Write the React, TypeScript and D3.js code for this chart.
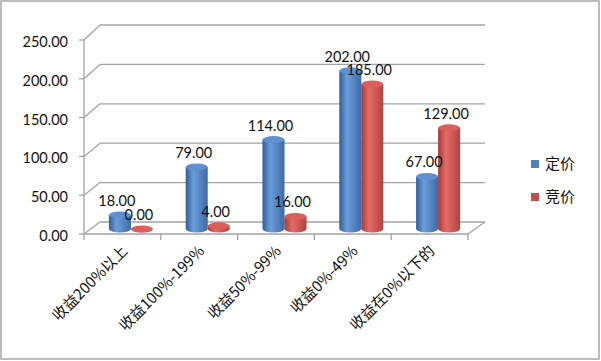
import * as d3 from "d3";

const categories = ["收益200%以上", "收益100%-199%", "收益50%-99%", "收益0%-49%", "收益在0%以下的"];
const fixedPrice = [18, 79, 114, 202, 67];
const bidPrice = [0, 4, 16, 185, 129];
const yTicks = [0, 50, 100, 150, 200, 250];
const seriesNames = ["定价", "竞价"];

const W = 601;
const H = 361;
const FONT = "Lato, 'Liberation Sans', sans-serif";
const CJK = "'Noto Sans CJK SC', sans-serif";
const GRID = "#a3a3a3";
const DX = 16; // depth offset of the back wall
const BAR_W = 22;
const RY = 3.5;

export default function App() {
  const x = d3.scaleBand<string>().domain(categories).range([84, 468]);
  const yFront = d3.scaleLinear().domain([0, 250]).range([234, 40]);
  const yBack = d3.scaleLinear().domain([0, 250]).range([222, 25]);
  const yBar = d3.scaleLinear().domain([0, 250]).range([229, 33]);

  const bw = x.bandwidth();
  const pairCenter = (c: string) => (x(c) ?? 0) + bw / 2 + 8.5;

  const cylinder = (cx: number, v: number, grad: string, top: string, key: string) => {
    const x0 = cx - BAR_W / 2;
    const x1 = cx + BAR_W / 2;
    const yt = yBar(v);
    const yb = yBar(0);
    const rx = BAR_W / 2;
    const d = `M${x0},${yt} L${x0},${yb} A${rx},${RY} 0 0 0 ${x1},${yb} L${x1},${yt} Z`;
    return (
      <g key={key}>
        <path d={d} fill={`url(#${grad})`} />
        <ellipse cx={cx} cy={yt} rx={rx} ry={RY} fill={top} />
      </g>
    );
  };

  return (
    <svg width={W} height={H} style={{ position: "absolute", left: 0, top: 0, background: "#fff" }}>
      <defs>
        <linearGradient id="gBlue" x1="0" x2="1" y1="0" y2="0">
          <stop offset="0" stopColor="#2f5e98" />
          <stop offset="0.35" stopColor="#6d9dd8" />
          <stop offset="1" stopColor="#3a6aa8" />
        </linearGradient>
        <linearGradient id="gRed" x1="0" x2="1" y1="0" y2="0">
          <stop offset="0" stopColor="#a53a37" />
          <stop offset="0.35" stopColor="#e56b68" />
          <stop offset="1" stopColor="#b3423f" />
        </linearGradient>
      </defs>
      <rect x={1} y={1} width={598} height={358} fill="#fff" stroke="#a6a6a6" strokeWidth={1.5} />

      {/* back wall grid + side diagonals */}
      {yTicks.map((t) => (
        <g key={t}>
          <line x1={84 + DX} x2={468 + DX + 1} y1={yBack(t)} y2={yBack(t)} stroke={GRID} strokeWidth={1.3} />
          <line x1={84} x2={84 + DX} y1={yFront(t)} y2={yBack(t)} stroke={GRID} strokeWidth={1.3} />
          <line x1={79} x2={84} y1={yFront(t)} y2={yFront(t)} stroke={GRID} strokeWidth={1.3} />
          <text
            x={68}
            y={yFront(t) + 2}
            dy="0.35em"
            textAnchor="end"
            fontFamily={FONT}
            fontSize={14.5}
            fill="#111"
          >
            {t.toFixed(2)}
          </text>
        </g>
      ))}
      <line x1={84} x2={84} y1={yFront(250)} y2={yFront(0)} stroke={GRID} strokeWidth={1.3} />
      {/* floor */}
      <line x1={84} x2={468} y1={yFront(0)} y2={yFront(0)} stroke={GRID} strokeWidth={1.3} />
      <line x1={468} x2={468 + DX + 1} y1={yFront(0)} y2={yBack(0)} stroke={GRID} strokeWidth={1.3} />
      {[...categories.map((c) => x(c) ?? 0), 468].map((v, i) => (
        <line key={i} x1={v} x2={v} y1={yFront(0)} y2={yFront(0) + 6} stroke={GRID} strokeWidth={1.3} />
      ))}

      {/* bars */}
      {categories.map((c, i) => {
        const pc = pairCenter(c);
        return (
          <g key={c}>
            {cylinder(pc - BAR_W / 2, fixedPrice[i], "gBlue", "#5f90d0", "b")}
            {cylinder(pc + BAR_W / 2, bidPrice[i], "gRed", "#dc5f5c", "r")}
          </g>
        );
      })}

      {/* data labels */}
      {categories.map((c, i) => {
        const pc = pairCenter(c);
        return (
          <g key={c} fontFamily={FONT} fontSize={14.5} fill="#111" textAnchor="middle">
            <text x={pc - BAR_W / 2 - 3} y={yBar(fixedPrice[i]) - 9}>
              {fixedPrice[i].toFixed(2)}
            </text>
            <text x={pc + BAR_W / 2 - 3} y={yBar(bidPrice[i]) - 9}>
              {bidPrice[i].toFixed(2)}
            </text>
          </g>
        );
      })}

      {/* category labels */}
      {categories.map((c) => {
        const cx = (x(c) ?? 0) + bw / 2 + 6;
        const cy = 252;
        return (
          <text
            key={c}
            transform={`translate(${cx},${cy}) rotate(-45)`}
            textAnchor="end"
            fontFamily={CJK}
            fontSize={15}
            fill="#111"
          >
            {c}
          </text>
        );
      })}

      {/* legend */}
      {seriesNames.map((s, i) => (
        <g key={s} transform={`translate(531,${160 + i * 33})`}>
          <rect width={8} height={8} fill={i === 0 ? "#4f81bd" : "#c0504d"} />
          <text x={14} y={4} dy="0.36em" fontFamily={CJK} fontSize={15} fill="#111">
            {s}
          </text>
        </g>
      ))}
    </svg>
  );
}
